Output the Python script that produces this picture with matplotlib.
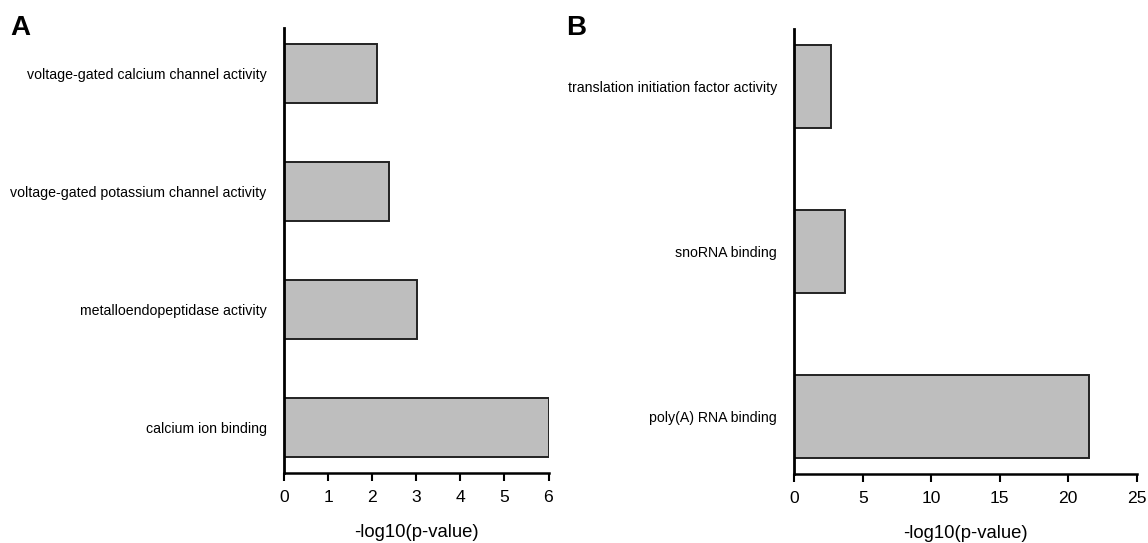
import matplotlib
matplotlib.use("Agg")
import matplotlib.pyplot as plt

plt.rcParams['font.family'] = ['Liberation Sans', 'DejaVu Sans']

# Panel A data (bottom to top)
cats_a = ["calcium ion binding", "metalloendopeptidase activity",
          "voltage-gated potassium channel activity",
          "voltage-gated calcium channel activity"]
vals_a = [6.0, 3.02, 2.39, 2.12]
ticks_a = [0, 1, 2, 3, 4, 5, 6]

# Panel B data (bottom to top)
cats_b = ["poly(A) RNA binding", "snoRNA binding",
          "translation initiation factor activity"]
vals_b = [21.55, 3.70, 2.68]
ticks_b = [0, 5, 10, 15, 20, 25]

W, H = 1148, 543
fig = plt.figure(figsize=(W / 100, H / 100), dpi=100)

def make_ax(x0, x1, y_top, y_bot):
    return fig.add_axes([x0 / W, 1 - y_bot / H, (x1 - x0) / W, (y_bot - y_top) / H])

def style(ax, cats, vals, ticks, ylim):
    ypos = list(range(len(cats)))
    ax.barh(ypos, vals, height=0.5, color="#BEBEBE", edgecolor="#222222",
            linewidth=1.4, zorder=2)
    ax.set_xlim(ticks[0], ticks[-1])
    ax.set_ylim(*ylim)
    ax.set_yticks(ypos)
    ax.set_yticklabels(cats, fontsize=10.2)
    ax.tick_params(axis='y', length=0, pad=12.5)
    ax.set_xticks(ticks)
    ax.set_xticklabels([str(t) for t in ticks], fontsize=12.6)
    ax.tick_params(axis='x', length=6, width=1.5, pad=6)
    for s in ("top", "right"):
        ax.spines[s].set_visible(False)
    ax.spines["left"].set_linewidth(2)
    ax.spines["bottom"].set_linewidth(1.8)
    ax.set_xlabel("-log10(p-value)", fontsize=13.3, labelpad=14)

ax_a = make_ax(284, 548.5, 28, 473)
style(ax_a, cats_a, vals_a, ticks_a, (-0.39, 3.39))
ax_b = make_ax(794.3, 1136.7, 29, 474)
style(ax_b, cats_b, vals_b, ticks_b, (-0.35, 2.35))

fig.text(10 / W, 1 - 28 / H, "A", fontsize=20, fontweight="bold", va="center", ha="left")
fig.text(566 / W, 1 - 28 / H, "B", fontsize=20, fontweight="bold", va="center", ha="left")

fig.savefig("out.png", dpi=100)
